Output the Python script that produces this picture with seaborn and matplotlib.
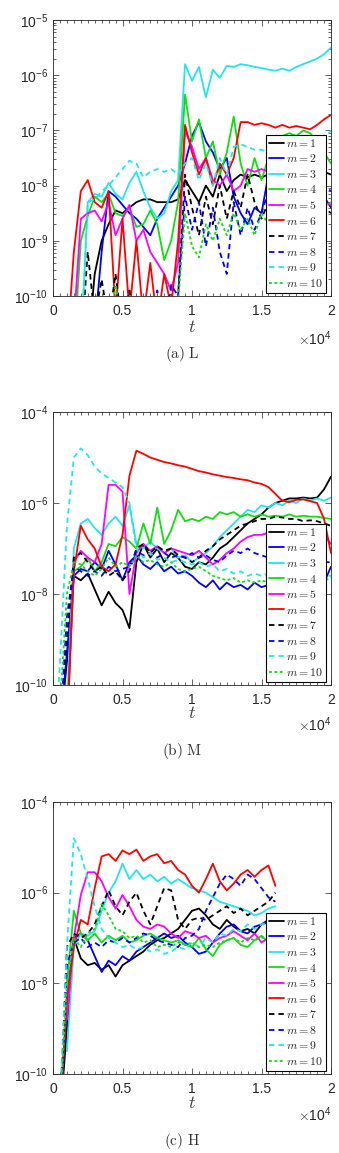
import matplotlib
matplotlib.use('Agg')
import matplotlib.pyplot as plt
import matplotlib.ticker as mticker
import numpy as np
import seaborn as sns

nan = np.nan

# sampling times (every 500)
t_LM = list(range(0, 20001, 500))
t_H = list(range(0, 16001, 500))

# log10 of the mode amplitudes
# ---- (a) L ----
L_m1 = [nan, nan, nan, nan, nan, -11, -9.6, -9.0, -8.7, -8.45,
        -8.5, -8.4, -8.3, -8.25, -8.25, -8.3, -8.3, -8.3, -8.25, -7.9,
        -8.1, -8.3, -8.0, -8.2, -7.8, -8.1, -7.9, -7.8, -7.85, -7.8,
        -7.85, -7.8, -7.75, -7.8, -7.7, -7.75, -7.7, -7.8, -7.7, -7.75,
        -7.8]
L_m2 = [nan, nan, nan, nan, nan, nan, -10.6, -9.2, -8.1, -8.2,
        -8.35, -8.5, -8.6, -8.75, -8.9, -8.6, -8.4, -8.2, -8.0, -7.6,
        -7.1, -6.85, -7.2, -7.4, -7.7, -7.5, -8.2, -8.5, -8.7, -8.4,
        -8.5, -7.8, -8.0, -7.9, -8.1, -8.0, -7.9, -8.1, -8.0, -8.2,
        -8.4]
L_m3 = [nan, nan, nan, nan, -11, -8.3, -8.15, -8.2, -7.95, -8.15,
        -8.25, -7.95, -7.75, -8.1, -8.4, -8.6, -8.5, -8.1, -7.9, -5.8,
        -6.1, -5.85, -6.4, -5.9, -6.05, -5.83, -5.85, -5.8, -5.82, -5.85,
        -5.87, -5.9, -5.92, -5.88, -5.92, -5.85, -5.8, -5.75, -5.7, -5.62,
        -5.5]
L_m4 = [nan, nan, nan, -11, -9.0, -8.55, -8.2, -8.3, -8.15, -8.5,
        -8.55, -8.4, -8.75, -8.7, -8.45, -8.7, -9.35, -9.0, -8.3, -6.35,
        -7.2, -6.8, -7.5, -7.2, -7.8, -7.4, -6.75, -7.6, -8.0, -7.5,
        -7.9, -7.5, -7.3, -7.1, -7.05, -7.1, -7.0, -7.05, -7.2, -7.4,
        -7.6]
L_m5 = [nan, nan, nan, -10.5, -8.6, -8.5, -8.45, -8.65, -8.3, -8.9,
        -8.6, -8.35, -9.0, -8.8, -9.2, -9.4, -9.6, -9.9, -9.4, -7.0,
        -7.3, -7.7, -7.5, -7.9, -8.0, -7.8, -8.1, -8.0, -7.7, -7.75,
        -7.7, -7.75, -7.85, -7.8, -7.9, -8.0, -8.0, -8.1, -8.2, -8.3,
        -8.35]
L_m6 = [nan, nan, -11, -9.2, -8.1, -7.9, -8.3, -8.4, -8.1, -10.3,
        -8.6, -10.3, -9.0, -10.4, -9.4, -10.5, -9.6, -10.2, -9.0, -6.9,
        -7.4, -7.8, -7.5, -8.0, -7.6, -7.8, -7.5, -6.85, -6.85, -6.9,
        -6.87, -6.9, -6.95, -6.9, -6.95, -6.92, -6.95, -6.98, -6.9, -6.8,
        -6.72]
L_m7 = [nan, nan, nan, nan, -11, -9.2, -10.4, -9.7, -10.5, -9.6,
        -10.6, -9.9, -10.8, -10.3, -10.8, -10.5, -10.9, -10.6, -10.0, -7.8,
        -8.4, -8.9, -8.2, -8.7, -8.0, -8.6, -8.1, -8.4, -7.8, -8.3,
        -8.6, -8.3, -8.7, -8.5, -8.4, -8.6, -8.5, -8.4, -8.5, -8.4,
        -8.5]
L_m8 = [nan, nan, nan, nan, nan, -11, -10.8, -10.5, -10.9, -10.4,
        -10.8, -10.5, -10.9, -10.6, -10.8, -9.9, -10.8, -9.8, -10.0, -8.2,
        -8.8, -8.3, -9.1, -8.4, -9.2, -9.6, -8.3, -8.9, -8.4, -8.8,
        -8.5, -8.1, -8.3, -8.2, -8.4, -8.2, -8.3, -8.1, -8.2, -8.0,
        -8.1]
L_m9 = [nan, nan, nan, nan, -11, -8.3, -8.25, -8.1, -8.0, -7.85,
        -7.7, -7.55, -7.6, -7.85, -7.75, -7.7, -7.75, -7.7, -7.8, -7.6,
        -7.5, -7.9, -7.6, -8.0, -7.5, -7.8, -7.3, -7.25, -7.3, -7.35,
        -7.35, -7.4, -7.4, -7.35, -7.3, -7.3, -7.25, -7.2, -7.2, -7.15,
        -7.0]
L_m10 = [nan, nan, nan, nan, nan, nan, -10.8, -10.2, -10.6, -9.8,
         -10.5, -10.0, -10.7, -10.1, -10.6, -10.2, -10.7, -10.3, -10.1, -8.5,
         -9.1, -9.3, -8.7, -9.0, -8.6, -8.9, -8.5, -8.8, -8.6, -8.9,
         -8.5, -8.7, -8.5, -8.6, -8.4, -8.5, -8.4, -8.5, -8.3, -8.4,
         -8.3]

# ---- (b) M ----
M_m1 = [nan, -11, -9.5, -7.6, -7.7, -7.55, -7.9, -8.25, -7.95, -8.2,
        -8.35, -8.75, -7.3, -6.9, -7.2, -7.0, -7.3, -7.1, -7.2, -7.4,
        -7.45, -7.3, -7.35, -7.2, -7.0, -6.9, -6.75, -6.6, -6.45, -6.35,
        -6.25, -6.1, -6.0, -5.95, -5.9, -5.9, -5.88, -5.9, -5.88, -5.7,
        -5.42]
M_m2 = [nan, -11, -9.3, -7.6, -7.45, -7.5, -7.3, -7.45, -7.05, -7.35,
        -7.7, -7.3, -7.15, -7.35, -7.45, -7.3, -7.5, -7.4, -7.55, -7.5,
        -7.6, -7.75, -7.85, -7.7, -7.9, -7.75, -7.85, -7.8, -7.9, -7.75,
        -7.85, -7.8, -7.85, -7.8, -7.85, -7.75, -7.85, -7.8, -7.8, -7.75,
        -7.4]
M_m3 = [nan, nan, -10.5, -7.0, -6.45, -6.35, -6.55, -6.7, -6.45, -6.3,
        -6.5, -6.05, -6.9, -7.0, -6.85, -7.0, -7.1, -7.0, -7.2, -7.15,
        -7.3, -7.2, -7.1, -6.95, -6.75, -6.6, -6.45, -6.3, -6.15, -6.2,
        -6.05, -6.1, -6.0, -6.05, -5.95, -6.0, -5.9, -5.95, -5.9, -5.95,
        -5.88]
M_m4 = [nan, nan, -11, -7.5, -7.4, -7.2, -7.5, -7.3, -6.9, -6.95,
        -6.75, -6.85, -7.0, -6.45, -6.9, -6.1, -6.9, -6.6, -6.15, -6.4,
        -6.35, -6.4, -6.3, -6.35, -6.2, -6.25, -6.2, -6.3, -6.25, -6.3,
        -6.25, -6.3, -6.28, -6.3, -6.25, -6.3, -6.28, -6.3, -6.3, -6.33,
        -6.35]
M_m5 = [nan, nan, -11, -7.3, -7.05, -7.2, -7.3, -6.9, -5.6, -5.6,
        -5.75, -8.0, -7.1, -6.9, -7.05, -6.95, -7.1, -7.0, -7.05, -7.1,
        -7.15, -7.05, -7.2, -7.35, -7.25, -7.1, -7.0, -6.85, -6.75, -6.7,
        -6.7, -6.65, -6.6, -6.65, -6.6, -6.55, -6.6, -6.6, -6.65, -6.7,
        -6.9]
M_m6 = [nan, nan, -11, -7.5, -6.5, -6.8, -7.0, -7.4, -7.5, -7.35,
        -6.7, -5.4, -4.85, -4.92, -5.0, -5.05, -5.1, -5.13, -5.17, -5.2,
        -5.25, -5.3, -5.33, -5.37, -5.4, -5.43, -5.45, -5.48, -5.5, -5.55,
        -5.58, -5.65, -5.8, -5.95, -5.98, -5.93, -5.92, -5.96, -6.0, -6.35,
        -7.1]
M_m7 = [nan, -11, -9.0, -7.2, -7.1, -7.3, -7.5, -7.4, -7.6, -7.5,
        -7.7, -7.5, -7.0, -6.9, -7.1, -6.95, -7.05, -7.0, -7.15, -7.2,
        -7.3, -7.2, -7.05, -6.95, -6.8, -6.7, -6.6, -6.5, -6.45, -6.4,
        -6.35, -6.35, -6.3, -6.32, -6.35, -6.35, -6.4, -6.38, -6.4, -6.45,
        -6.5]
M_m8 = [nan, -11, -8.5, -7.4, -7.5, -7.6, -7.5, -7.6, -7.4, -7.5,
        -7.45, -7.4, -7.05, -7.15, -7.1, -7.2, -7.1, -7.2, -7.15, -7.2,
        -7.1, -7.2, -7.15, -7.25, -7.3, -7.15, -7.05, -7.1, -7.0, -7.1,
        -7.15, -7.2, -7.25, -7.2, -7.3, -7.25, -7.3, -7.3, -7.25, -7.3,
        -7.3]
M_m9 = [-12, -9.5, -6.5, -5.0, -4.8, -4.95, -5.2, -5.35, -5.45, -5.55,
        -5.65, -6.0, -7.0, -7.2, -7.1, -7.25, -7.2, -7.3, -7.25, -7.3,
        -7.35, -7.3, -7.4, -7.35, -7.5, -7.45, -7.55, -7.5, -7.6, -7.55,
        -7.6, -7.55, -7.6, -7.55, -7.6, -7.6, -7.55, -7.6, -7.6, -7.6,
        -7.6]
M_m10 = [nan, -10.5, -8.0, -7.3, -7.35, -7.5, -7.6, -7.45, -7.2, -7.4,
         -7.3, -7.4, -7.15, -7.3, -7.25, -7.35, -7.4, -7.3, -7.45, -7.5,
         -7.45, -7.4, -7.5, -7.6, -7.65, -7.7, -7.65, -7.75, -7.7, -7.75,
         -7.7, -7.75, -7.7, -7.75, -7.7, -7.75, -7.7, -7.72, -7.7, -7.7,
         -7.65]

# ---- (c) H ----
H_m1 = [nan, -11, -9.0, -7.0, -7.45, -7.6, -7.55, -7.7, -7.6, -7.85,
        -7.6, -7.5, -7.4, -7.3, -7.15, -7.05, -7.0, -6.9, -6.8, -6.6,
        -6.4, -6.35, -6.5, -6.7, -6.8, -6.6, -6.75, -6.85, -6.8, -6.9,
        -6.7, -6.6, -6.5]
H_m2 = [nan, -11, -8.4, -7.0, -6.9, -7.05, -7.4, -7.75, -7.5, -7.6,
        -7.4, -7.5, -7.3, -7.2, -7.1, -7.0, -6.9, -7.0, -6.95, -7.1,
        -7.2, -7.35, -7.3, -7.1, -6.9, -6.75, -6.7, -6.85, -6.9, -6.75,
        -6.7, -6.65, -6.6]
H_m3 = [nan, nan, -9.5, -7.2, -6.9, -6.95, -6.85, -6.4, -6.0, -5.75,
        -5.36, -5.7, -5.5, -5.7, -5.6, -5.75, -5.65, -5.8, -5.7, -5.8,
        -5.9, -5.95, -6.0, -6.1, -6.2, -6.25, -6.3, -6.35, -6.4, -6.5,
        -6.45, -6.35, -6.3]
H_m4 = [nan, nan, -8.0, -6.4, -6.9, -7.05, -6.9, -7.1, -6.95, -7.05,
        -6.95, -7.1, -7.05, -6.95, -6.9, -7.0, -7.05, -7.1, -7.05, -7.15,
        -7.2, -7.0, -7.25, -7.4, -7.15, -7.05, -7.0, -7.15, -7.2, -7.05,
        -6.95, -7.1, -6.9]
H_m5 = [nan, nan, -8.8, -7.0, -6.05, -5.55, -5.55, -5.75, -6.1, -6.35,
        -6.05, -6.3, -6.6, -6.75, -6.8, -6.7, -6.75, -6.9, -7.0, -6.85,
        -6.9, -7.0, -6.95, -7.1, -7.0, -6.95, -6.85, -6.95, -7.05, -6.9,
        -7.1, -7.0, -6.85]
H_m6 = [nan, -11, -8.3, -7.2, -6.6, -6.7, -5.9, -5.2, -5.15, -5.3,
        -5.07, -5.15, -5.05, -5.3, -5.2, -5.15, -5.35, -5.3, -5.5, -5.6,
        -5.85, -6.0, -5.7, -5.36, -5.75, -5.95, -5.8, -5.6, -5.5, -5.65,
        -5.5, -5.4, -5.85]
H_m7 = [nan, -11, -7.2, -6.9, -7.0, -6.9, -6.7, -6.3, -5.95, -6.3,
        -6.5, -6.2, -6.0, -6.4, -6.7, -6.3, -5.9, -5.95, -6.6, -6.8,
        -6.6, -6.55, -6.6, -6.5, -6.4, -6.3, -6.45, -6.35, -6.5, -6.4,
        -6.3, -6.2, -6.0]
H_m8 = [nan, -11, -7.6, -7.1, -7.0, -7.2, -7.1, -7.2, -7.05, -7.1,
        -7.0, -7.1, -7.0, -6.9, -6.95, -7.05, -7.1, -7.15, -7.2, -7.0,
        -6.95, -6.8, -6.4, -6.1, -5.8, -5.6, -5.7, -5.85, -5.6, -5.7,
        -5.9, -6.1, -6.2]
H_m9 = [nan, -10.6, -7.2, -4.8, -5.15, -5.7, -6.3, -6.8, -7.0, -7.1,
        -7.2, -7.15, -7.25, -7.2, -7.3, -7.25, -7.35, -7.3, -7.2, -7.25,
        -7.1, -7.2, -7.0, -7.1, -6.9, -6.95, -6.8, -6.85, -6.7, -6.8,
        -6.7, -6.65, -6.6]
H_m10 = [nan, -10.8, -8.0, -7.0, -7.2, -6.9, -6.8, -6.25, -6.5, -6.8,
         -6.85, -7.0, -6.95, -7.1, -7.05, -7.2, -7.15, -7.2, -7.1, -7.15,
         -7.1, -7.2, -7.15, -7.2, -7.1, -7.05, -7.0, -7.1, -7.0, -7.05,
         -7.0, -6.95, -7.0]

labels = ['$m = %d$' % k for k in range(1, 11)]
colors = ['#000000', '#0000ff', '#22e5ee', '#11dd11', '#ff00ff',
          '#ff0000', '#000000', '#0000ff', '#22e5ee', '#11dd11']
dash = (0, (3, 2.2))
dot = (0, (1.6, 1.4))
styles = ['-'] * 6 + [dash] * 3 + [dot]

panels = [
    dict(t=t_LM, series=[L_m1, L_m2, L_m3, L_m4, L_m5, L_m6, L_m7, L_m8, L_m9, L_m10],
         top=20, bot=296, ymax=-5, yticks=[-10, -9, -8, -7, -6, -5], minor=True,
         ty=328, oy=339, cy=354, cap=r'$\mathrm{(a)\ L}$'),
    dict(t=t_LM, series=[M_m1, M_m2, M_m3, M_m4, M_m5, M_m6, M_m7, M_m8, M_m9, M_m10],
         top=412, bot=685, ymax=-4, yticks=[-10, -8, -6, -4], minor=False,
         ty=713, oy=725, cy=751, cap=r'$\mathrm{(b)\ M}$'),
    dict(t=t_H, series=[H_m1, H_m2, H_m3, H_m4, H_m5, H_m6, H_m7, H_m8, H_m9, H_m10],
         top=802, bot=1074, ymax=-4, yticks=[-10, -8, -6, -4], minor=False,
         ty=1103, oy=1115, cy=1141, cap=r'$\mathrm{(c)\ H}$'),
]

sns.set_style('ticks')
plt.rcParams['font.family'] = ['Liberation Sans', 'DejaVu Sans']
plt.rcParams['mathtext.fontset'] = 'cm'

W, H = 339, 1153
fig = plt.figure(figsize=(W / 100, H / 100), dpi=100)
gray = '#262626'

for p in panels:
    ax = fig.add_axes([53 / W, 1 - p['bot'] / H, 278 / W, (p['bot'] - p['top']) / H])
    for vals, lab, col, ls in zip(p['series'], labels, colors, styles):
        assert len(vals) == len(p['t'])
        sns.lineplot(x=p['t'], y=10.0 ** np.array(vals), ax=ax, color=col,
                     linestyle=ls, linewidth=1.3, label=lab, estimator=None, sort=False)
    ax.set_yscale('log')
    ax.set_ylim(1e-10, 10.0 ** p['ymax'])
    ax.set_xlim(0, 20000)
    ax.yaxis.set_major_locator(mticker.FixedLocator([10.0 ** e for e in p['yticks']]))
    ax.yaxis.set_major_formatter(mticker.FuncFormatter(
        lambda v, pos: r'$\mathregular{10^{%d}}$' % int(round(np.log10(v)))))
    if p['minor']:
        ax.yaxis.set_minor_locator(mticker.LogLocator(base=10, subs=np.arange(2, 10)))
    else:
        ax.yaxis.set_minor_locator(mticker.NullLocator())
    ax.yaxis.set_minor_formatter(mticker.NullFormatter())
    ax.xaxis.set_major_locator(mticker.MultipleLocator(5000))
    ax.xaxis.set_minor_locator(mticker.MultipleLocator(500))
    ax.xaxis.set_major_formatter(mticker.FuncFormatter(lambda v, pos: '%g' % (v / 1e4)))
    ax.tick_params(which='both', direction='in', top=True, right=True,
                   color=gray, labelcolor=gray, width=0.5, labelsize=10)
    ax.tick_params(which='major', length=4)
    ax.tick_params(which='minor', length=2)
    ax.tick_params(axis='x', pad=5.5)
    ax.tick_params(axis='y', pad=3.5)
    for s in ax.spines.values():
        s.set_linewidth(0.6)
        s.set_color(gray)
    ax.set_xlabel('')
    ax.set_ylabel('')
    leg = ax.legend(loc='lower right', bbox_to_anchor=(0.982, 0.012), borderaxespad=0,
                    fontsize=8.5, frameon=True, fancybox=False, edgecolor='k',
                    framealpha=1, handlelength=1.3, handletextpad=0.15,
                    labelspacing=0.3, borderpad=0.25)
    leg.get_frame().set_linewidth(0.8)

    fig.text(192 / W, 1 - p['ty'] / H, '$t$', ha='center', va='center',
             fontsize=13, color='#404040')
    fig.text(331 / W, 1 - p['oy'] / H, r'$\times\mathregular{10^{4}}$', ha='right',
             va='center', fontsize=10, color=gray)
    fig.text(182 / W, 1 - p['cy'] / H, p['cap'], ha='center', va='center',
             fontsize=11, color='#333333')

fig.savefig('out.png', dpi=100)
